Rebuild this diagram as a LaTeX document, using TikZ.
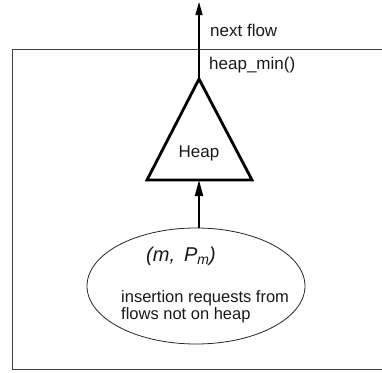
\documentclass[tikz,border=0pt]{standalone}
\usepackage{fontspec}
\setmainfont{Liberation Sans}
\usetikzlibrary{arrows.meta}
\tikzset{
  lbl/.style={font=\fontsize{17}{17}\selectfont, inner sep=0pt, text=black!90},
  frame/.style={line width=0.9pt, draw=black!75},
  heapline/.style={line width=2.8pt, line join=miter, draw=black},
  thinarrow/.style={line width=1.2pt, -{Triangle[length=13pt,width=7pt]}},
  thickarrow/.style={line width=2pt, -{Triangle[length=16pt,width=8pt]}},
  reqell/.style={ellipse, draw=black!85, line width=0.8pt, minimum width=218pt, minimum height=116pt, inner sep=0pt}
}
\usetikzlibrary{shapes.geometric}
\begin{document}
\begin{tikzpicture}[x=1pt,y=-1pt]
\useasboundingbox (0,0) rectangle (382,372);
% frame (right side beyond picture)
\draw[frame] (390,49) -- (12,49) -- (12,369) -- (390,369);
% heap triangle
\coordinate (apex) at (199,79);
\coordinate (bl) at (147,180);
\coordinate (br) at (252,180);
\coordinate (basemid) at (199,180);
\coordinate (out) at (199,2);
\draw[heapline] (apex) -- (br) -- (bl) -- cycle;
\node[lbl] (heap) at (199,153) {Heap};
% request ellipse
\node[reqell] (req) at (196,286) {};
\coordinate (reqtop) at (req.north -| basemid);
\node[lbl, font=\fontsize{20}{20}\selectfont\itshape] (pm) at (181,256) {(m,\hspace{0.45em}P\raisebox{-0.35ex}{\fontsize{14}{14}\selectfont m})};
\node[lbl, font=\fontsize{16.5}{17}\selectfont, align=left, anchor=west] (ins) at (121,306.5) {insertion requests from\\flows not on heap};
% arrows
\draw[thickarrow] (reqtop) -- (basemid);
\draw[thinarrow] (apex) -- (out);
% labels
\node[lbl, anchor=west] (nf) at (210,30) {next flow};
\node[lbl, anchor=west] (hm) at (209,65) {heap\_min()};
\end{tikzpicture}
\end{document}
